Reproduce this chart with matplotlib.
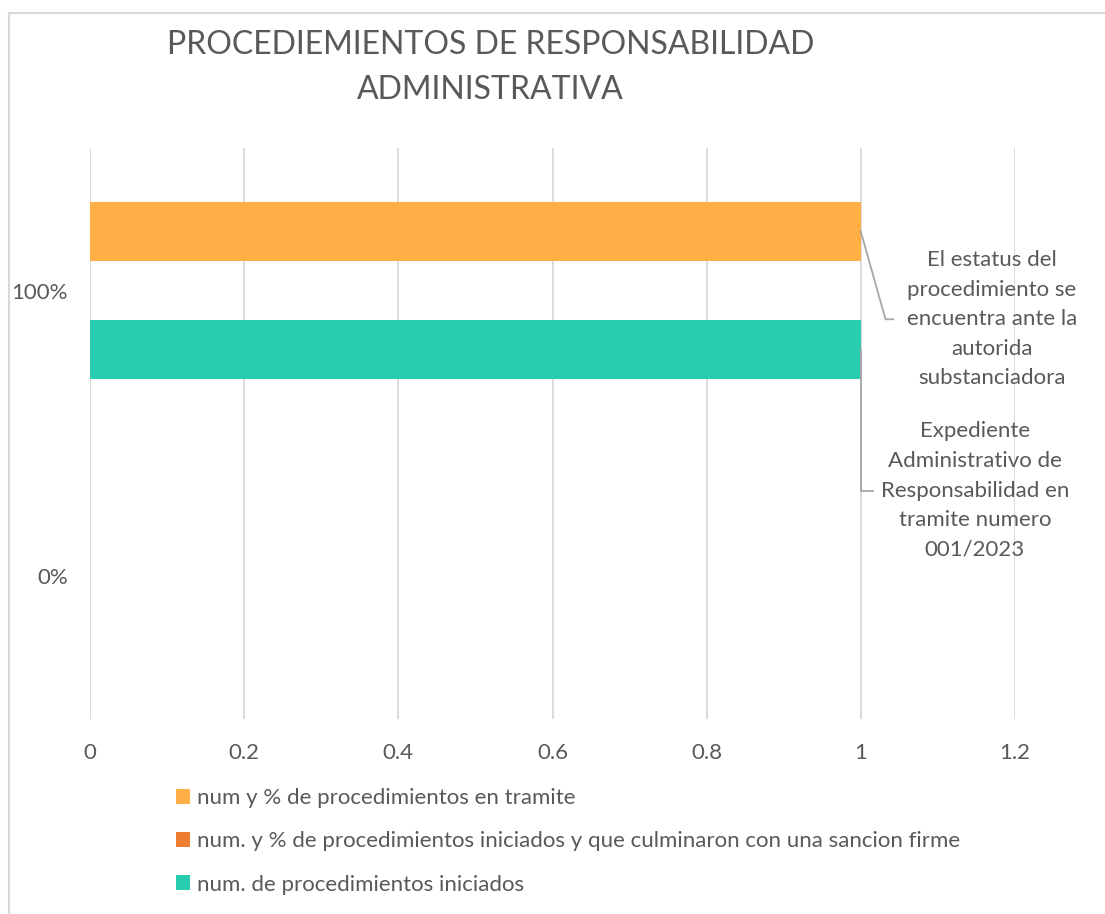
import matplotlib.pyplot as plt
from matplotlib.lines import Line2D
import numpy as np

# categories (bottom to top) and series values
categories = ['0%', '100%']
series_names = ['num. de procedimientos iniciados',
                'num. y % de procedimientos iniciados y que culminaron con una sancion firme',
                'num y % de procedimientos en tramite']
iniciados = [0, 1]
sancion = [0, 0]
tramite = [0, 1]
xticks = [0, 0.2, 0.4, 0.6, 0.8, 1.0, 1.2]
xticklabels = ['0', '0.2', '0.4', '0.6', '0.8', '1', '1.2']

label_tramite = 'El estatus del\nprocedimiento se\nencuentra ante la\nautorida\nsubstanciadora'
label_iniciados = 'Expediente\nAdministrativo de\nResponsabilidad en\ntramite numero\n001/2023'

colors = ['#2ACCAF', '#ED7D31', '#FFAF45']
txt = '#595959'
grid = '#D9D9D9'

plt.rcParams['font.family'] = ['Lato', 'DejaVu Sans']

fig = plt.figure(figsize=(11.05, 9.14), dpi=100)
ax = fig.add_axes([90 / 1105, 1 - 719 / 914, 925 / 1105, 571 / 914])

y = np.arange(len(categories))
h = 0.207
for i, (vals, c, name) in enumerate(zip([iniciados, sancion, tramite], colors, series_names)):
    ax.barh(y + (i - 1) * h, vals, height=h, color=c, label=name, zorder=3)

ax.set_xlim(0, 1.2)
ax.set_ylim(-0.5, 1.5)
ax.set_xticks(xticks)
ax.set_xticklabels(xticklabels)
ax.set_yticks(y)
ax.set_yticklabels(categories)
ax.tick_params(length=0, labelsize=16, colors=txt)
ax.tick_params(axis='x', pad=17)
ax.tick_params(axis='y', pad=16)
ax.grid(axis='x', color=grid, lw=1.3, zorder=0)
for s in ax.spines.values():
    s.set_visible(False)

# data labels with leader lines
ax.text(1.17, 0.9, label_tramite, ha='center', va='center', fontsize=16,
        color=txt, linespacing=1.6)
ax.plot([1.0, 1.032, 1.042], [1 + h, 0.9, 0.9], color='#A6A6A6', lw=1.3, zorder=4)
ax.text(1.148, 0.3, label_iniciados, ha='center', va='center', fontsize=16,
        color=txt, linespacing=1.6)
ax.plot([1.0, 1.0, 1.016], [1 - h, 0.3, 0.3], color='#A6A6A6', lw=1.3, zorder=4)

fig.text(0.444, 0.926, 'PROCEDIEMIENTOS DE RESPONSABILIDAD\nADMINISTRATIVA', ha='center',
         va='center', fontsize=23, color=txt, linespacing=1.65)

handles, labels = ax.get_legend_handles_labels()
fig.legend(handles[::-1], labels[::-1], loc='upper left', bbox_to_anchor=(156 / 1105, 1 - 768 / 914),
           frameon=False, fontsize=16, labelcolor=txt, handlelength=0.65, handleheight=0.65,
           handletextpad=0.3, labelspacing=1.05)

# chart area border (top and left edges)
fig.add_artist(Line2D([8.5 / 1105, 1], [1 - 13 / 914, 1 - 13 / 914], color=grid, lw=1.5))
fig.add_artist(Line2D([8.5 / 1105, 8.5 / 1105], [0, 1 - 13 / 914], color=grid, lw=1.5))

fig.savefig('out.png', dpi=100)
